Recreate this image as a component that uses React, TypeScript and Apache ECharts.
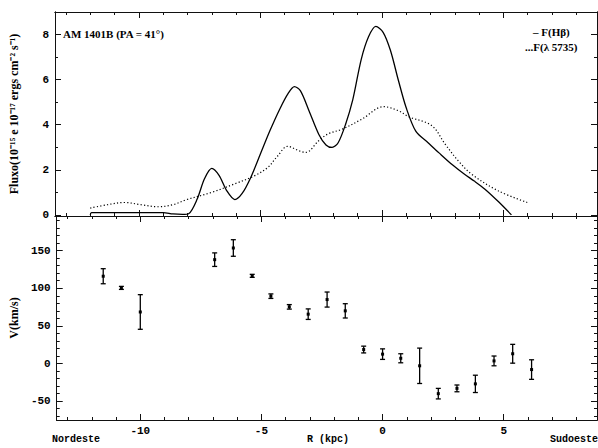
import React, { useEffect, useRef } from "react";
import * as echarts from "echarts";

// ---- Data ----
const HB_R = [-12.0, -11.95, -11.0, -10.0, -9.0, -8.6, -8.2, -7.95, -7.6, -7.3, -7.0, -6.7, -6.4, -6.05, -5.75, -5.4, -5.0, -4.6, -4.2, -3.85, -3.6, -3.35, -3.0, -2.6, -2.3, -2.05, -1.8, -1.5, -1.2, -0.85, -0.55, -0.25, 0.05, 0.35, 0.68, 1.0, 1.4, 1.9, 2.35, 2.9, 3.4, 3.8, 4.24, 4.8, 5.33];
const HB_V = [0.0, 0.1, 0.1, 0.1, 0.1, 0.04, 0.02, 0.05, 0.7, 1.6, 2.06, 1.75, 1.1, 0.68, 0.95, 1.65, 2.7, 3.75, 4.7, 5.4, 5.69, 5.5, 4.62, 3.58, 3.1, 2.99, 3.2, 4.0, 5.1, 6.9, 7.9, 8.36, 8.1, 7.3, 5.96, 4.75, 3.7, 3.2, 2.75, 2.22, 1.8, 1.5, 1.14, 0.58, 0.0];

const CONT_R = [-12.0, -11.3, -10.6, -9.9, -9.2, -8.6, -8.05, -7.0, -6.0, -5.25, -4.7, -4.3, -3.88, -3.4, -3.13, -2.6, -2.2, -1.64, -0.82, 0.07, 0.68, 1.09, 2.05, 2.6, 3.14, 3.7, 4.78, 5.98];
const CONT_V = [0.3, 0.45, 0.55, 0.45, 0.36, 0.45, 0.67, 1.0, 1.4, 1.73, 2.1, 2.6, 3.04, 2.84, 2.77, 3.29, 3.6, 3.8, 4.25, 4.8, 4.62, 4.36, 3.96, 3.14, 2.4, 1.8, 1.07, 0.55];

const VEL_R = [-11.53, -10.78, -10.0, -6.93, -6.16, -5.38, -4.61, -3.85, -3.07, -2.29, -1.54, -0.78, 0.0, 0.75, 1.53, 2.3, 3.07, 3.83, 4.6, 5.37, 6.15];
const VEL_V = [116, 100.5, 68.5, 138, 153.5, 116.5, 89.5, 75.3, 65.6, 85, 70, 18.6, 12.5, 7, -3, -40, -33, -27, 3.5, 13, -8];
const VEL_ERR = [10, 2, 23, 9, 11, 2, 3, 3, 7, 10, 9.5, 4.5, 7, 6, 23.5, 7, 4.5, 11.5, 6.5, 12.5, 13];

const X_MAJOR = [-10, -5, 0, 5];
const X_MINOR = [-13, -12, -11, -9, -8, -7, -6, -4, -3, -2, -1, 1, 2, 3, 4, 6, 7, 8];
const FLUX_MAJOR = [0, 2, 4, 6, 8];
const FLUX_MINOR = [1, 3, 5, 7, 9];
const VEL_MAJOR = [-50, 0, 50, 100, 150];
const VEL_MINOR = [-70, -60, -40, -30, -20, -10, 10, 20, 30, 40, 60, 70, 80, 90, 110, 120, 130, 140, 160, 170, 180, 190];

const X_MIN = -13.45;
const X_MAX = 8.85;
const FLUX_MIN = -0.05;
const FLUX_MAX = 9;
const VEL_MIN = -75;
const VEL_MAX = 196;

const TICK_FONT = {
  color: "#000",
  fontFamily: "Liberation Mono",
  fontWeight: "bold" as const,
  fontSize: 11,
};

function xAxis(gridIndex: number, position: string, values: number[], len: number, labels: boolean) {
  return {
    type: "value",
    gridIndex,
    position,
    min: X_MIN,
    max: X_MAX,
    axisLine: { show: true, onZero: false, lineStyle: { color: "#111", width: 1 } },
    axisTick: { show: true, inside: true, length: len, customValues: values, lineStyle: { color: "#111", width: 1 } },
    axisLabel: { show: labels, customValues: values, margin: 5, ...TICK_FONT },
    splitLine: { show: false },
  };
}

function yAxis(gridIndex: number, position: string, min: number, max: number, values: number[], len: number, labels: boolean, name?: string, nameSize?: number) {
  return {
    type: "value",
    gridIndex,
    position,
    min,
    max,
    name: name || "",
    nameLocation: "middle",
    nameGap: 35,
    nameRotate: 90,
    nameTextStyle: { color: "#000", fontFamily: "Liberation Serif", fontWeight: "bold", fontSize: nameSize || 11 },
    axisLine: { show: true, onZero: false, lineStyle: { color: "#111", width: 1 } },
    axisTick: { show: true, inside: true, length: len, customValues: values, lineStyle: { color: "#111", width: 1 } },
    axisLabel: { show: labels, customValues: values, margin: 6, ...TICK_FONT },
    splitLine: { show: false },
  };
}

export default function App() {
  const ref = useRef<HTMLDivElement>(null);

  useEffect(() => {
    if (!ref.current) return;
    const chart = echarts.init(ref.current, null, { renderer: "svg" });

    const hbData = HB_R.map((r, i) => [r, HB_V[i]]);
    const contData = CONT_R.map((r, i) => [r, CONT_V[i]]);
    const velData = VEL_R.map((r, i) => [r, VEL_V[i], VEL_ERR[i]]);

    const option = {
      animation: false,
      backgroundColor: "#fff",
      grid: [
        { left: 52, top: 12, width: 545, height: 204 },
        { left: 52, top: 216, width: 545, height: 204 },
      ],
      xAxis: [
        xAxis(0, "bottom", X_MAJOR, 6, false),
        xAxis(0, "bottom", X_MINOR, 3, false),
        xAxis(0, "top", X_MAJOR, 6, false),
        xAxis(0, "top", X_MINOR, 3, false),
        xAxis(1, "bottom", X_MAJOR, 6, true),
        xAxis(1, "bottom", X_MINOR, 3, false),
        xAxis(1, "top", X_MAJOR, 6, false),
        xAxis(1, "top", X_MINOR, 3, false),
      ],
      yAxis: [
        yAxis(0, "left", FLUX_MIN, FLUX_MAX, FLUX_MAJOR, 6, true, "Fluxo(10\u207B\u00B9\u2075 e 10\u207B\u00B9\u2077 ergs cm\u207B\u00B2 s\u207B\u00B9)", 12),
        yAxis(0, "left", FLUX_MIN, FLUX_MAX, FLUX_MINOR, 3, false),
        yAxis(0, "right", FLUX_MIN, FLUX_MAX, FLUX_MAJOR, 6, false),
        yAxis(0, "right", FLUX_MIN, FLUX_MAX, FLUX_MINOR, 3, false),
        yAxis(1, "left", VEL_MIN, VEL_MAX, VEL_MAJOR, 6, true, "V(km/s)", 12),
        yAxis(1, "left", VEL_MIN, VEL_MAX, VEL_MINOR, 3, false),
        yAxis(1, "right", VEL_MIN, VEL_MAX, VEL_MAJOR, 6, false),
        yAxis(1, "right", VEL_MIN, VEL_MAX, VEL_MINOR, 3, false),
      ],
      series: [
        {
          type: "line",
          name: "F(Hb)",
          xAxisIndex: 0,
          yAxisIndex: 0,
          data: hbData,
          smooth: 0.3,
          showSymbol: false,
          lineStyle: { color: "#000", width: 1.3 },
        },
        {
          type: "line",
          name: "F(5735)",
          xAxisIndex: 0,
          yAxisIndex: 0,
          data: contData,
          smooth: 0.35,
          showSymbol: false,
          lineStyle: { color: "#000", width: 1.2, type: [1.2, 2.2] },
        },
        {
          type: "custom",
          xAxisIndex: 4,
          yAxisIndex: 4,
          data: velData,
          encode: { x: 0, y: 1 },
          renderItem: (params: any, api: any) => {
            const x = api.value(0);
            const v = api.value(1);
            const e = api.value(2);
            const top = api.coord([x, v + e]);
            const bot = api.coord([x, v - e]);
            const mid = api.coord([x, v]);
            const style = { stroke: "#000", lineWidth: 1.3 };
            return {
              type: "group",
              children: [
                { type: "line", shape: { x1: top[0], y1: top[1], x2: bot[0], y2: bot[1] }, style },
                { type: "line", shape: { x1: top[0] - 2.5, y1: top[1], x2: top[0] + 2.5, y2: top[1] }, style },
                { type: "line", shape: { x1: bot[0] - 2.5, y1: bot[1], x2: bot[0] + 2.5, y2: bot[1] }, style },
                { type: "rect", shape: { x: mid[0] - 1.5, y: mid[1] - 1.5, width: 3, height: 3 }, style: { fill: "#000" } },
              ],
            };
          },
        },
      ],
      graphic: [
        {
          type: "text",
          left: 63,
          top: 28,
          style: { text: "AM 1401B (PA = 41\u00B0)", fill: "#000", font: "bold 11px 'Liberation Serif'" },
        },
        {
          type: "text",
          left: 533,
          top: 26,
          style: { text: "\u2013 F(H\u03B2)", fill: "#000", font: "bold 11px 'Liberation Serif'" },
        },
        {
          type: "text",
          left: 525,
          top: 41,
          style: { text: "...F(\u03BB 5735)", fill: "#000", font: "bold 11px 'Liberation Serif'" },
        },
        {
          type: "text",
          left: 52,
          top: 434,
          style: { text: "Nordeste", fill: "#000", font: "bold 10px 'Liberation Mono'" },
        },
        {
          type: "text",
          left: 307,
          top: 434,
          style: { text: "R (kpc)", fill: "#000", font: "bold 10px 'Liberation Mono'" },
        },
        {
          type: "text",
          left: 550,
          top: 434,
          style: { text: "Sudoeste", fill: "#000", font: "bold 10px 'Liberation Mono'" },
        },
      ],
    };

    chart.setOption(option as any);
    return () => chart.dispose();
  }, []);

  return (
    <div
      ref={ref}
      style={{ position: "fixed", left: 0, top: 0, width: 598, height: 448, background: "#fff" }}
    />
  );
}
